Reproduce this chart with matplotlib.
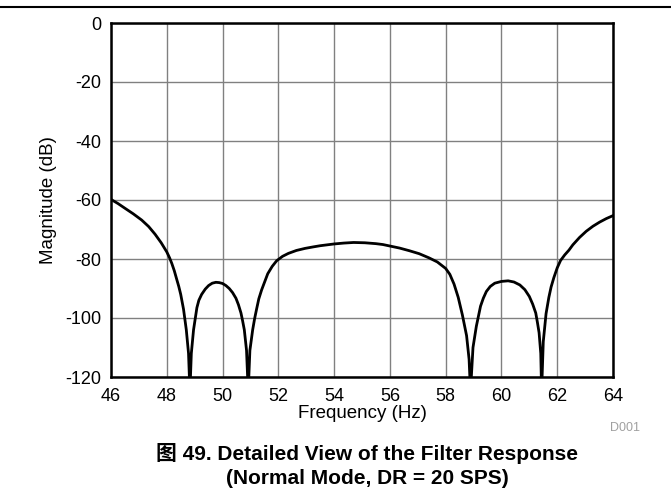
import matplotlib
matplotlib.use("Agg")
import matplotlib.pyplot as plt
from matplotlib.lines import Line2D

plt.rcParams['font.family'] = ['Liberation Sans', 'Noto Sans CJK SC', 'DejaVu Sans']
plt.rcParams['axes.unicode_minus'] = False

freq_hz = [46.0, 46.25, 46.5, 46.8, 47.1, 47.35, 47.58, 47.8, 48.0, 48.1, 48.18, 48.27, 48.36, 48.43,
           48.5, 48.6, 48.7, 48.78, 48.83,
           48.88, 48.96, 49.08, 49.15, 49.25, 49.38, 49.5, 49.63, 49.76, 49.88, 50.0, 50.12, 50.24,
           50.36, 50.48, 50.57, 50.66, 50.72, 50.78, 50.86, 50.92,
           50.98, 51.08, 51.15, 51.22, 51.3, 51.4, 51.5, 51.62, 51.78, 51.94, 52.15, 52.36, 52.65,
           52.96, 53.25, 53.5, 54.0, 54.35, 54.7, 55.1, 55.5, 55.75, 56.0, 56.35, 56.7, 57.05, 57.4,
           57.7, 58.0, 58.15, 58.3, 58.45, 58.6, 58.75, 58.84, 58.89,
           58.98, 59.1, 59.25, 59.35, 59.46, 59.6, 59.76, 60.0, 60.24, 60.45, 60.66, 60.84, 61.0,
           61.12, 61.23, 61.29, 61.35, 61.41, 61.44,
           61.5, 61.6, 61.7, 61.78, 61.88, 62.0, 62.12, 62.27, 62.42, 62.56, 62.8, 63.04, 63.28,
           63.52, 63.76, 64.0]
magnitude_db = [-59.8, -61.2, -62.8, -64.7, -66.8, -69.0, -71.6, -74.5, -77.6, -79.6, -81.5, -84.0, -87.0, -89.3,
                -92.0, -97.0, -104.0, -112.0, -125.0,
                -112.0, -104.0, -96.5, -94.0, -92.0, -90.2, -89.0, -88.2, -87.9, -88.0, -88.3, -89.0, -90.0,
                -91.4, -93.3, -95.5, -98.3, -101.0, -104.0, -111.0, -125.0,
                -111.0, -104.0, -100.2, -97.0, -93.5, -90.5, -88.0, -85.0, -82.5, -80.6, -79.1, -78.1, -77.1,
                -76.4, -75.9, -75.5, -74.9, -74.6, -74.4, -74.5, -74.8, -75.1, -75.6, -76.3, -77.2, -78.2, -79.6,
                -81.0, -83.2, -85.2, -88.5, -93.0, -99.0, -106.0, -114.0, -125.0,
                -110.0, -102.8, -96.0, -93.3, -91.0, -89.3, -88.2, -87.6, -87.4, -87.8, -88.8, -90.4, -92.7,
                -95.3, -98.3, -101.5, -105.0, -112.0, -125.0,
                -108.0, -98.5, -93.0, -89.5, -86.3, -83.0, -80.5, -78.6, -77.0, -75.2, -72.7, -70.6, -68.9,
                -67.5, -66.3, -65.3]

x_ticks = [46, 48, 50, 52, 54, 56, 58, 60, 62, 64]
y_ticks = [-120, -100, -80, -60, -40, -20, 0]

W, H = 671, 493
fig = plt.figure(figsize=(W / 100, H / 100), dpi=100)
ax = fig.add_axes([111 / W, 1 - 377 / H, 502 / W, 354 / H])

ax.plot(freq_hz, magnitude_db, color='black', lw=2.0, solid_joinstyle='round', zorder=3)
ax.set_xlim(46, 64)
ax.set_ylim(-120, 0)
ax.set_xticks(x_ticks)
ax.set_yticks(y_ticks)
ax.grid(True, color='#808080', lw=1.0)
ax.set_axisbelow(True)
for s in ax.spines.values():
    s.set_linewidth(1.8)
    s.set_color('black')
ax.tick_params(length=0, labelsize=13)
ax.tick_params(axis='x', pad=8)
ax.tick_params(axis='y', pad=7)
ax.set_xlabel('Frequency (Hz)', fontsize=13.5, labelpad=0)
ax.set_ylabel('Magnitude (dB)', fontsize=13.5, labelpad=6)

fig.text(640 / W, 1 - 428 / H, 'D001', ha='right', va='center', fontsize=9, color='#a0a0a0')
fig.text(367 / W, 1 - 453 / H, '图 49. Detailed View of the Filter Response', ha='center', va='center',
         fontsize=15, fontweight='bold')
fig.text(367 / W, 1 - 479 / H, '(Normal Mode, DR = 20 SPS)', ha='center', va='center',
         fontsize=15, fontweight='bold')
fig.add_artist(Line2D([0, 1], [1 - 7 / H, 1 - 7 / H], transform=fig.transFigure, color='black', lw=1.5))

fig.savefig('out.png', dpi=100)
